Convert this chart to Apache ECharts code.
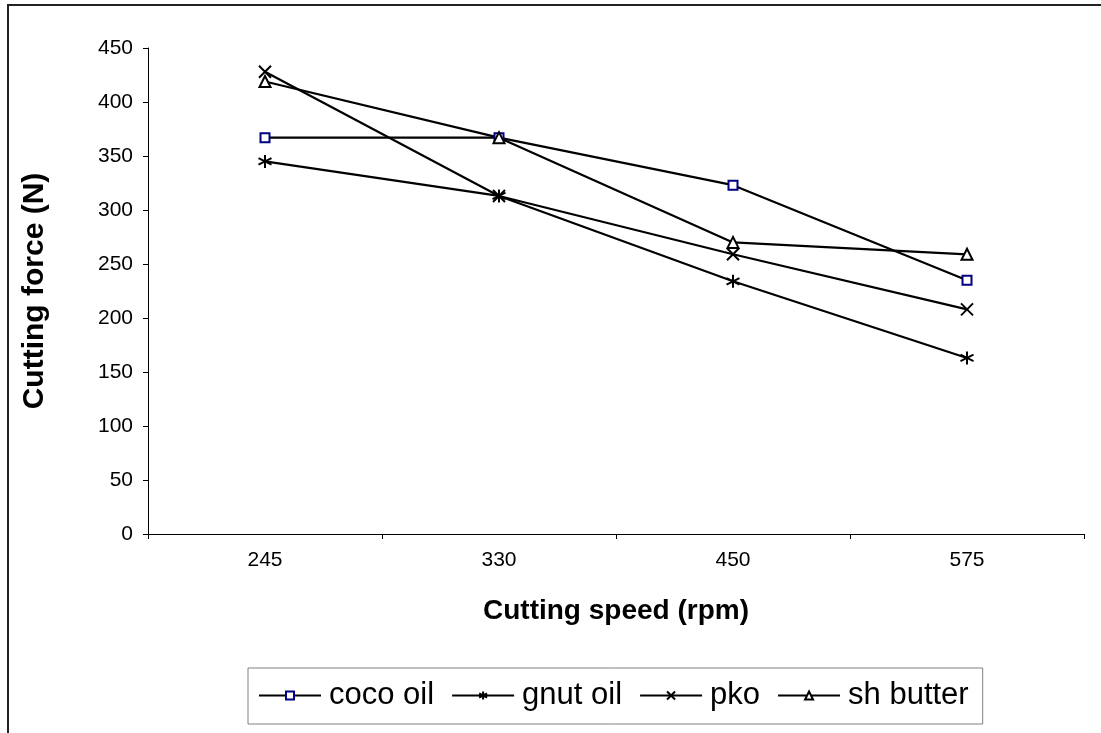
<!DOCTYPE html>
<html>
<head>
<meta charset="utf-8">
<script src="https://cdn.jsdelivr.net/npm/echarts@6/dist/echarts.min.js"></script>
<style>
  html, body { margin: 0; padding: 0; background: #fff; }
  #chart { width: 1101px; height: 733px; }
</style>
</head>
<body>
<div id="chart"></div>
<script>
// Cutting speed categories (rpm)
const speeds = ['245', '330', '450', '575'];

// Cutting force (N) per lubricant
const cocoOil = [367, 367, 323, 235];
const gnutOil = [345, 313, 234, 163];
const pko = [428, 313, 259, 208];
const shButter = [419, 367, 270, 259];

const FONT = '"Liberation Sans", Arial, sans-serif';

const starPath = 'path://M5,0L5,10M0.7,2.5L9.3,7.5M0.7,7.5L9.3,2.5';
const crossPath = 'path://M0,0L10,10M0,10L10,0';

function lineSeries(name, data, symbol, size, fill, stroke) {
  return {
    name: name,
    type: 'line',
    data: data,
    symbol: symbol,
    symbolSize: size,
    showAllSymbol: true,
    lineStyle: { color: '#000', width: 2.2 },
    itemStyle: { color: fill, borderColor: stroke, borderWidth: 2 },
    emphasis: { disabled: true },
    z: 3
  };
}

const chart = echarts.init(document.getElementById('chart'), null, { renderer: 'canvas' });

chart.setOption({
  animation: false,
  backgroundColor: '#fff',
  graphic: [{
    type: 'rect',
    shape: { x: 8, y: 5, width: 1200, height: 800 },
    style: { fill: 'none', stroke: '#222', lineWidth: 2 },
    silent: true,
    z: -1
  }],
  grid: { left: 148, right: 17, top: 48, bottom: 199 },
  xAxis: {
    type: 'category',
    data: speeds,
    boundaryGap: true,
    name: 'Cutting speed (rpm)',
    nameLocation: 'middle',
    nameGap: 63,
    nameTextStyle: { fontFamily: FONT, fontSize: 28, fontWeight: 'bold', color: '#000' },
    axisLine: { lineStyle: { color: '#000', width: 1 } },
    axisTick: { show: true, length: 5, lineStyle: { color: '#000' } },
    axisLabel: { fontFamily: FONT, fontSize: 21, color: '#000', margin: 16 },
    splitLine: { show: false }
  },
  yAxis: {
    type: 'value',
    min: 0,
    max: 450,
    interval: 50,
    name: 'Cutting force (N)',
    nameLocation: 'middle',
    nameGap: 98,
    nameRotate: 90,
    nameTextStyle: { fontFamily: FONT, fontSize: 30, fontWeight: 'bold', color: '#000' },
    axisLine: { show: true, lineStyle: { color: '#000', width: 1 } },
    axisTick: { show: true, length: 5, lineStyle: { color: '#000' } },
    axisLabel: { fontFamily: FONT, fontSize: 21, color: '#000', margin: 15 },
    splitLine: { show: false }
  },
  legend: {
    left: 248,
    top: 668,
    orient: 'horizontal',
    itemWidth: 62,
    itemHeight: 10,
    itemGap: 17,
    padding: [12, 14, 13, 10],
    borderColor: '#808080',
    borderWidth: 1,
    textStyle: { fontFamily: FONT, fontSize: 31, color: '#000', padding: [0, 0, 0, 3] },
    data: ['coco oil', 'gnut oil', 'pko', 'sh butter']
  },
  series: [
    lineSeries('coco oil', cocoOil, 'rect', 9, '#fff', '#000080'),
    lineSeries('gnut oil', gnutOil, starPath, 13, '#000', '#000'),
    lineSeries('pko', pko, crossPath, 12, '#000', '#000'),
    lineSeries('sh butter', shButter, 'triangle', 11, '#fff', '#000')
  ]
});
</script>
</body>
</html>
